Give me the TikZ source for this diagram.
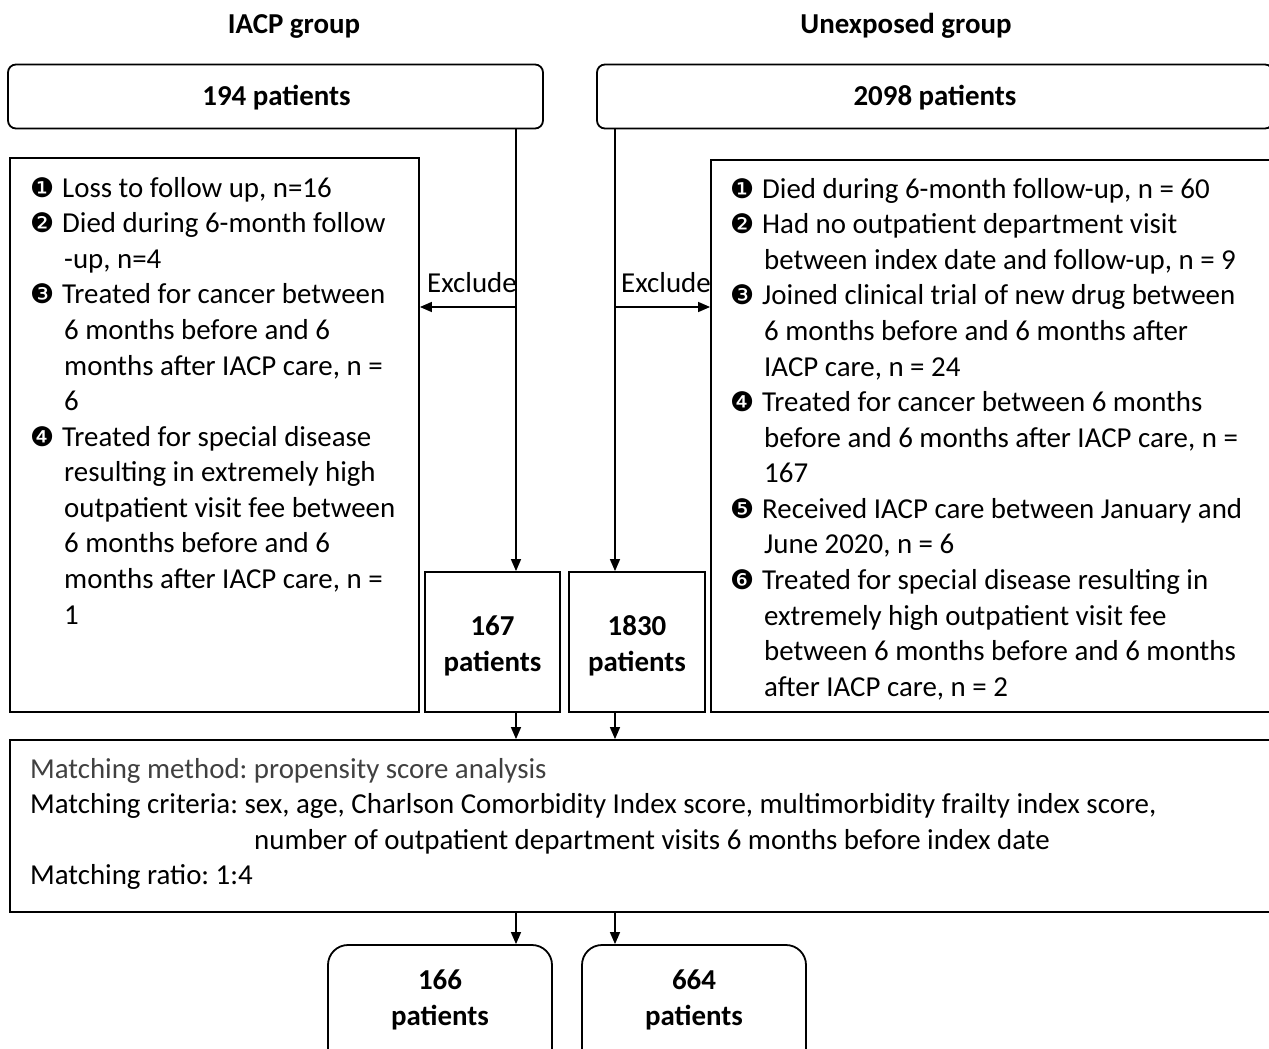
\documentclass[tikz,border=0pt]{standalone}
\usepackage{fontspec}
\setmainfont{Carlito}
\newfontfamily\djv{DejaVu Sans}
\usetikzlibrary{arrows.meta}
\definecolor{mgray}{RGB}{64,64,64}
\newcommand\bul[1]{\makebox[31bp][l]{\hspace*{-1bp}\raisebox{0bp}[0pt][0pt]{\djv\fontsize{27}{27}\selectfont #1}}}
\newcommand\hind{\hspace*{33bp}}
\frenchspacing
\begin{document}
\begin{tikzpicture}[x=1bp,y=-1bp,
  box/.style={draw, line width=1.8bp, inner sep=0},
  rbox/.style={box, rounded corners=8bp},
  arr/.style={line width=1.5bp, -{Triangle[length=12bp,width=10bp]}},
  txt/.style={font=\fontsize{29}{35.7}\selectfont\frenchspacing, inner sep=0},
  btxt/.style={font=\fontsize{29}{35.7}\selectfont\bfseries, inner sep=0, align=center},
  list/.style={txt, align=left, anchor=north west},
]
\useasboundingbox (0,0) rectangle (1269,1049);
% headers
\node[btxt] (h1) at (294,26) {IACP group};
\node[btxt] (h2) at (906,26) {Unexposed group};
% top boxes
\node[rbox, minimum width=535bp, minimum height=64bp] (b194) at (275.5,96.5) {};
\node[rbox, minimum width=676bp, minimum height=64bp] (b2098) at (935,96.5) {};
\node[btxt] (t194) at (276.5,97.5) {194 patients};
\node[btxt] (t2098) at (935,97.5) {2098 patients};
% exclusion boxes
\node[box, minimum width=409bp, minimum height=554bp] (exL) at (214.5,435) {};
\node[box, minimum width=562bp, minimum height=552bp] (exR) at (992,436) {};
% middle count boxes
\node[box, minimum width=135bp, minimum height=140bp] (b167) at (492.5,642) {};
\node[box, minimum width=136bp, minimum height=140bp] (b1830) at (637,642) {};
\node[btxt] (t167) at (492.5,646) {167\\patients};
\node[btxt] (t1830) at (637,646) {1830\\patients};
% matching box
\node[box, minimum width=1263bp, minimum height=172bp] (match) at (641.5,826) {};
% bottom boxes
\node[box, rounded corners=20bp, minimum width=224bp, minimum height=130bp] (b166) at (440,1010) {};
\node[box, rounded corners=20bp, minimum width=224bp, minimum height=130bp] (b664) at (694,1010) {};
\node[btxt] (t166) at (440,1000) {166\\patients};
\node[btxt] (t664) at (694,1000) {664\\patients};
% connector coordinates
\coordinate (cL) at (516,0);
\coordinate (cR) at (615,0);
\coordinate (eL) at (516,307);
\coordinate (eR) at (615,307);
\draw[arr] (b194.south -| cL) -- (b167.north -| cL);
\draw[arr] (b2098.south -| cR) -- (b1830.north -| cR);
\draw[arr] (eL) -- (exL.east |- eL);
\draw[arr] (eR) -- (exR.west |- eR);
\node[txt, anchor=base] (xl) at (472,292) {Exclude};
\node[txt, anchor=base] (xr) at (666,292) {Exclude};
\draw[arr] (b167.south -| cL) -- (match.north -| cL);
\draw[arr] (b1830.south -| cR) -- (match.north -| cR);
\draw[arr] (match.south -| cL) -- (b166.north -| cL);
\draw[arr] (match.south -| cR) -- (b664.north -| cR);
% exclusion texts
\node[list] (tL) at (31,177) {\bul{❶}Loss to follow up, n=16\\
\bul{❷}Died during 6-month follow\\
\hind-up, n=4\\
\bul{❸}Treated for cancer between\\
\hind6 months before and 6\\
\hind months after IACP care, n =\\
\hind6\\
\bul{❹}Treated for special disease\\
\hind resulting in extremely high\\
\hind outpatient visit fee between\\
\hind6 months before and 6\\
\hind months after IACP care, n =\\
\hind1};
\node[list] (tR) at (731,178) {\bul{❶}Died during 6-month follow-up, n = 60\\
\bul{❷}Had no outpatient department visit\\
\hind between index date and follow-up, n = 9\\
\bul{❸}Joined clinical trial of new drug between\\
\hind6 months before and 6 months after\\
\hind IACP care, n = 24\\
\bul{❹}Treated for cancer between 6 months\\
\hind before and 6 months after IACP care, n =\\
\hind167\\
\bul{❺}Received IACP care between January and\\
\hind June 2020, n = 6\\
\bul{❻}Treated for special disease resulting in\\
\hind extremely high outpatient visit fee\\
\hind between 6 months before and 6 months\\
\hind after IACP care, n = 2};
% matching text
\node[list] (tM) at (30,758) {{\color{mgray}Matching method: propensity score analysis}\\
Matching criteria: sex, age, Charlson Comorbidity Index score, multimorbidity frailty index score,\\
\hspace*{224bp}number of outpatient department visits 6 months before index date\\
Matching ratio: 1:4};
\end{tikzpicture}
\end{document}
